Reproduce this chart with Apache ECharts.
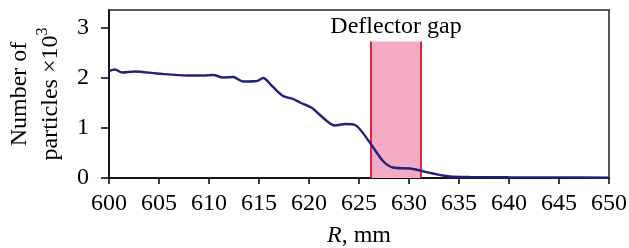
<!DOCTYPE html>
<html>
<head>
<meta charset="utf-8">
<script src="https://cdn.jsdelivr.net/npm/echarts@6/dist/echarts.min.js"></script>
<style>
  html, body { margin: 0; padding: 0; background: #fff; }
  #chart { width: 629px; height: 248px; }
</style>
</head>
<body>
<div id="chart"></div>
<script>
// R, mm
const radius = [600.0, 600.6, 601.3, 602.6, 604.8, 607.8, 609.5, 610.4, 611.4, 612.4,
  613.4, 614.8, 615.4, 616.3, 617.4, 618.4, 619.1, 620.3, 621.1, 622.1,
  622.6, 623.6, 624.6, 625.9, 627.4, 628.4, 630.1, 631.1, 632.4, 634.1,
  636.0, 640.0, 645.0, 650.0]
// number of particles x10^3
const particles = [2.14, 2.17, 2.11, 2.13, 2.09, 2.05, 2.05, 2.06, 2.01, 2.02,
  1.93, 1.94, 2.00, 1.84, 1.64, 1.58, 1.51, 1.40, 1.26, 1.09,
  1.05, 1.08, 1.06, 0.76, 0.34, 0.21, 0.19, 0.15, 0.09, 0.03,
  0.02, 0.015, 0.012, 0.008]
const yTicks = [0, 1, 2, 3]
const gapStart = 626.2
const gapEnd = 631.2
const gapTop = 2.73
const gapLabel = 'Deflector gap'

const FONT = '"Liberation Serif", "DejaVu Serif", serif'
const FS = 24
const chart = echarts.init(document.getElementById('chart'))

chart.setOption({
  animation: false,
  textStyle: { fontFamily: FONT },
  grid: {
    left: 109, right: 20, top: 10, bottom: 70,
    outerBoundsMode: 'none',
    show: true, borderColor: '#222', borderWidth: 1.5,
  },
  xAxis: {
    type: 'value',
    min: 600, max: 650, interval: 5,
    axisLine: { lineStyle: { color: '#000', width: 1.5 } },
    axisTick: { length: 6, lineStyle: { color: '#000', width: 1.5 } },
    axisLabel: { color: '#000', fontSize: FS, fontFamily: FONT, margin: 14 },
    splitLine: { show: false },
    name: '{i|R}, mm',
    nameLocation: 'middle',
    nameGap: 46,
    nameTextStyle: {
      color: '#000', fontSize: FS, fontFamily: FONT,
      rich: { i: { fontStyle: 'italic', fontSize: FS, fontFamily: FONT, color: '#000' } },
    },
  },
  yAxis: {
    type: 'value',
    min: 0, max: 3.36,
    axisLine: { show: true, lineStyle: { color: '#000', width: 1.5 } },
    axisTick: { show: true, length: 8, customValues: yTicks, lineStyle: { color: '#000', width: 1.5 } },
    axisLabel: { color: '#000', fontSize: FS, fontFamily: FONT, margin: 20, customValues: yTicks },
    splitLine: { show: false },
    name: '{t|Number of}\n{t|particles ×10}{sup|3}',
    nameLocation: 'middle',
    nameRotate: 90,
    nameGap: 40,
    nameTextStyle: {
      color: '#000', fontSize: FS, fontFamily: FONT, lineHeight: 31,
      rich: {
        t: { fontSize: FS, fontFamily: FONT, color: '#000', lineHeight: 31 },
        sup: { fontSize: 16, fontFamily: FONT, color: '#000', lineHeight: 18, verticalAlign: 'top' },
      },
    },
  },
  series: [
    {
      type: 'line',
      data: radius.map((r, i) => [r, particles[i]]),
      smooth: 0.3,
      symbol: 'none',
      lineStyle: { color: '#22227a', width: 2.4 },
      z: 5,
      markArea: {
        silent: true,
        itemStyle: { color: '#f4a9c4' },
        label: {
          show: true, position: 'top', distance: 3,
          color: '#000', fontSize: FS, fontFamily: FONT,
        },
        data: [[{ name: gapLabel, coord: [gapStart, 0] }, { coord: [gapEnd, gapTop] }]],
        z: 1,
      },
      markLine: {
        silent: true,
        symbol: 'none',
        label: { show: false },
        lineStyle: { color: '#d7283c', width: 2, type: 'solid' },
        data: [
          [{ coord: [gapStart, 0] }, { coord: [gapStart, gapTop] }],
          [{ coord: [gapEnd, 0] }, { coord: [gapEnd, gapTop] }],
        ],
      },
    },
  ],
})
</script>
</body>
</html>
